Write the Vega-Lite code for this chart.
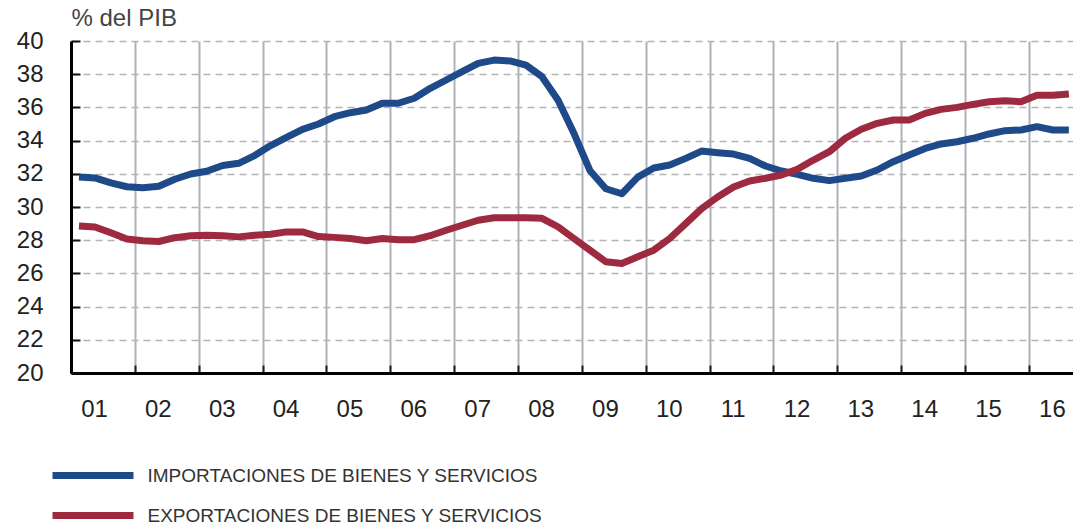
{
  "$schema": "https://vega.github.io/schema/vega-lite/v6.json",
  "width": 1002,
  "height": 332,
  "autosize": {"type": "none"},
  "padding": {"left": 71, "top": 41, "right": 0, "bottom": 153},
  "background": "white",
  "config": {
    "view": {"stroke": null},
    "font": "Liberation Sans"
  },
  "data": {
    "values": [
      {"t": 2001.125, "imp": 31.8, "exp": 28.86},
      {"t": 2001.375, "imp": 31.75, "exp": 28.8},
      {"t": 2001.625, "imp": 31.45, "exp": 28.45},
      {"t": 2001.875, "imp": 31.22, "exp": 28.07},
      {"t": 2002.125, "imp": 31.16, "exp": 27.97},
      {"t": 2002.375, "imp": 31.25, "exp": 27.92},
      {"t": 2002.625, "imp": 31.67, "exp": 28.15},
      {"t": 2002.875, "imp": 31.99, "exp": 28.27},
      {"t": 2003.125, "imp": 32.15, "exp": 28.3},
      {"t": 2003.375, "imp": 32.5, "exp": 28.27},
      {"t": 2003.625, "imp": 32.63, "exp": 28.2},
      {"t": 2003.875, "imp": 33.1, "exp": 28.3},
      {"t": 2004.125, "imp": 33.7, "exp": 28.36},
      {"t": 2004.375, "imp": 34.2, "exp": 28.5},
      {"t": 2004.625, "imp": 34.68, "exp": 28.5},
      {"t": 2004.875, "imp": 35.0, "exp": 28.22},
      {"t": 2005.125, "imp": 35.44, "exp": 28.17},
      {"t": 2005.375, "imp": 35.68, "exp": 28.1},
      {"t": 2005.625, "imp": 35.84, "exp": 27.97},
      {"t": 2005.875, "imp": 36.25, "exp": 28.1},
      {"t": 2006.125, "imp": 36.25, "exp": 28.03},
      {"t": 2006.375, "imp": 36.55, "exp": 28.03},
      {"t": 2006.625, "imp": 37.15, "exp": 28.27},
      {"t": 2006.875, "imp": 37.65, "exp": 28.6},
      {"t": 2007.125, "imp": 38.15, "exp": 28.9},
      {"t": 2007.375, "imp": 38.65, "exp": 29.2},
      {"t": 2007.625, "imp": 38.85, "exp": 29.35},
      {"t": 2007.875, "imp": 38.8, "exp": 29.35},
      {"t": 2008.125, "imp": 38.55, "exp": 29.35},
      {"t": 2008.375, "imp": 37.85, "exp": 29.32},
      {"t": 2008.625, "imp": 36.45, "exp": 28.81},
      {"t": 2008.875, "imp": 34.44, "exp": 28.1},
      {"t": 2009.125, "imp": 32.2, "exp": 27.4},
      {"t": 2009.375, "imp": 31.1, "exp": 26.7},
      {"t": 2009.625, "imp": 30.8, "exp": 26.6},
      {"t": 2009.875, "imp": 31.8, "exp": 27.0},
      {"t": 2010.125, "imp": 32.35, "exp": 27.4},
      {"t": 2010.375, "imp": 32.53, "exp": 28.1},
      {"t": 2010.625, "imp": 32.93, "exp": 29.0},
      {"t": 2010.875, "imp": 33.37, "exp": 29.9},
      {"t": 2011.125, "imp": 33.27, "exp": 30.6},
      {"t": 2011.375, "imp": 33.19, "exp": 31.2},
      {"t": 2011.625, "imp": 32.93, "exp": 31.57},
      {"t": 2011.875, "imp": 32.47, "exp": 31.73},
      {"t": 2012.125, "imp": 32.17, "exp": 31.93},
      {"t": 2012.375, "imp": 31.97, "exp": 32.27},
      {"t": 2012.625, "imp": 31.73, "exp": 32.83},
      {"t": 2012.875, "imp": 31.59, "exp": 33.33},
      {"t": 2013.125, "imp": 31.73, "exp": 34.14},
      {"t": 2013.375, "imp": 31.87, "exp": 34.68},
      {"t": 2013.625, "imp": 32.23, "exp": 35.04},
      {"t": 2013.875, "imp": 32.73, "exp": 35.24},
      {"t": 2014.125, "imp": 33.13, "exp": 35.24},
      {"t": 2014.375, "imp": 33.53, "exp": 35.64},
      {"t": 2014.625, "imp": 33.8, "exp": 35.88},
      {"t": 2014.875, "imp": 33.93, "exp": 36.0},
      {"t": 2015.125, "imp": 34.14, "exp": 36.18},
      {"t": 2015.375, "imp": 34.4, "exp": 36.34},
      {"t": 2015.625, "imp": 34.6, "exp": 36.4},
      {"t": 2015.875, "imp": 34.64, "exp": 36.34},
      {"t": 2016.125, "imp": 34.84, "exp": 36.73},
      {"t": 2016.375, "imp": 34.64, "exp": 36.73},
      {"t": 2016.625, "imp": 34.64, "exp": 36.81}
    ]
  },
  "transform": [{"fold": ["imp", "exp"], "as": ["serie", "valor"]}],
  "mark": {"type": "line", "strokeWidth": 7, "strokeJoin": "round", "strokeCap": "butt"},
  "encoding": {
    "x": {
      "field": "t",
      "type": "quantitative",
      "scale": {"domain": [2001, 2016.69], "nice": false, "zero": false},
      "axis": {
        "title": null,
        "values": [2001, 2002, 2003, 2004, 2005, 2006, 2007, 2008, 2009, 2010, 2011, 2012, 2013, 2014, 2015, 2016],
        "labelExpr": "substring(toString(datum.value), 2)",
        "labelOffset": 23,
        "labelFlush": false,
        "labelOverlap": false,
        "labelFontSize": 24,
        "labelColor": "#222222",
        "labelPadding": 32,
        "labelBaseline": "top",
        "tickSize": -8,
        "tickWidth": 2,
        "tickColor": "#222222",
        "domainColor": "#000000",
        "domainWidth": 3,
        "grid": true,
        "gridColor": "#adb2b8",
        "gridWidth": 2
      }
    },
    "y": {
      "field": "valor",
      "type": "quantitative",
      "scale": {"domain": [20, 40], "nice": false, "zero": false},
      "axis": {
        "title": "% del PIB",
        "titleAngle": 0,
        "titleAlign": "left",
        "titleBaseline": "alphabetic",
        "titleX": 0,
        "titleY": -16,
        "titleFontSize": 24,
        "titleFontWeight": "normal",
        "titleColor": "#444444",
        "values": [20, 22, 24, 26, 28, 30, 32, 34, 36, 38, 40],
        "labelFontSize": 24,
        "labelColor": "#222222",
        "labelPadding": 37,
        "tickSize": -9,
        "tickWidth": 2,
        "tickColor": "#111111",
        "domainColor": "#000000",
        "domainWidth": 3,
        "grid": true,
        "gridColor": "#b4b4b4",
        "gridWidth": 1.5,
        "gridDash": [7, 5]
      }
    },
    "color": {
      "field": "serie",
      "type": "nominal",
      "scale": {"domain": ["imp", "exp"], "range": ["#1f4a8a", "#9e2a3f"]},
      "legend": {
        "title": null,
        "orient": "none",
        "legendX": 8.5,
        "legendY": 421,
        "direction": "vertical",
        "symbolType": "M-4.05,0H4.05",
        "symbolSize": 400,
        "symbolStrokeWidth": 7,
        "labelFont": "Liberation Sans",
        "labelFontSize": 19,
        "labelColor": "#333333",
        "labelOffset": 41,
        "labelLimit": 600,
        "padding": 0,
        "rowPadding": 11,
        "labelExpr": "datum.label == 'imp' ? 'IMPORTACIONES DE BIENES Y SERVICIOS' : 'EXPORTACIONES DE BIENES Y SERVICIOS'"
      }
    }
  }
}
